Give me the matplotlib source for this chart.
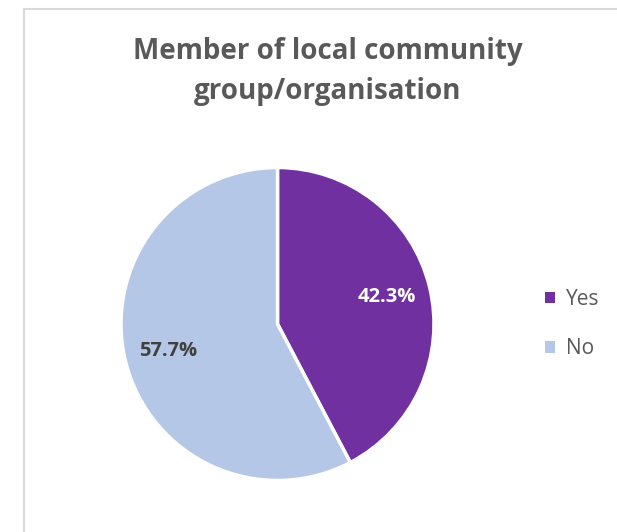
import matplotlib
matplotlib.use("Agg")
import matplotlib.pyplot as plt
from matplotlib.lines import Line2D

labels = ["Yes", "No"]
shares = [42.3, 57.7]
colors = ["#7030A0", "#B4C7E7"]
label_colors = ["white", "#404040"]

plt.rcParams["font.family"] = ["Open Sans", "DejaVu Sans"]

W, H = 617, 532
fig = plt.figure(figsize=(W / 100, H / 100), dpi=100)

# chart frame
frame_c = "#D9D9D9"
fig.add_artist(Line2D([24 / W, 24 / W], [0, 1 - 9 / H], color=frame_c, lw=1.5))
fig.add_artist(Line2D([24 / W, 1], [1 - 9 / H, 1 - 9 / H], color=frame_c, lw=1.5))

# pie axes
cx, cy, r = 277.5, 324, 156.5
ax = fig.add_axes([(cx - r) / W, 1 - (cy + r) / H, 2 * r / W, 2 * r / H])
wedges, texts, autotexts = ax.pie(
    shares, colors=colors, startangle=90, counterclock=False,
    autopct="%.1f%%", pctdistance=0.72,
    wedgeprops=dict(edgecolor="white", linewidth=2.5),
)
for t, c in zip(autotexts, label_colors):
    t.set_color(c)
    t.set_fontsize(14.5)
    t.set_fontweight("bold")
ax.set_xlim(-1, 1)
ax.set_ylim(-1, 1)
ax.set_aspect("equal")
ax.axis("off")

fig.text(328 / W, 1 - 71 / H, "Member of local community\ngroup/organisation",
         ha="center", va="center", fontsize=20, fontweight="bold",
         color="#595959", linespacing=1.5)

leg = fig.legend(wedges, labels, loc="center left",
                 bbox_to_anchor=(545 / W, 1 - 324 / H), frameon=False,
                 borderpad=0, borderaxespad=0,
                 fontsize=15, handlelength=0.5, handleheight=0.5,
                 handletextpad=0.5, labelspacing=1.35, labelcolor="#595959")
for h in leg.legend_handles:
    h.set_edgecolor("none")

fig.savefig("out.png", dpi=100)
